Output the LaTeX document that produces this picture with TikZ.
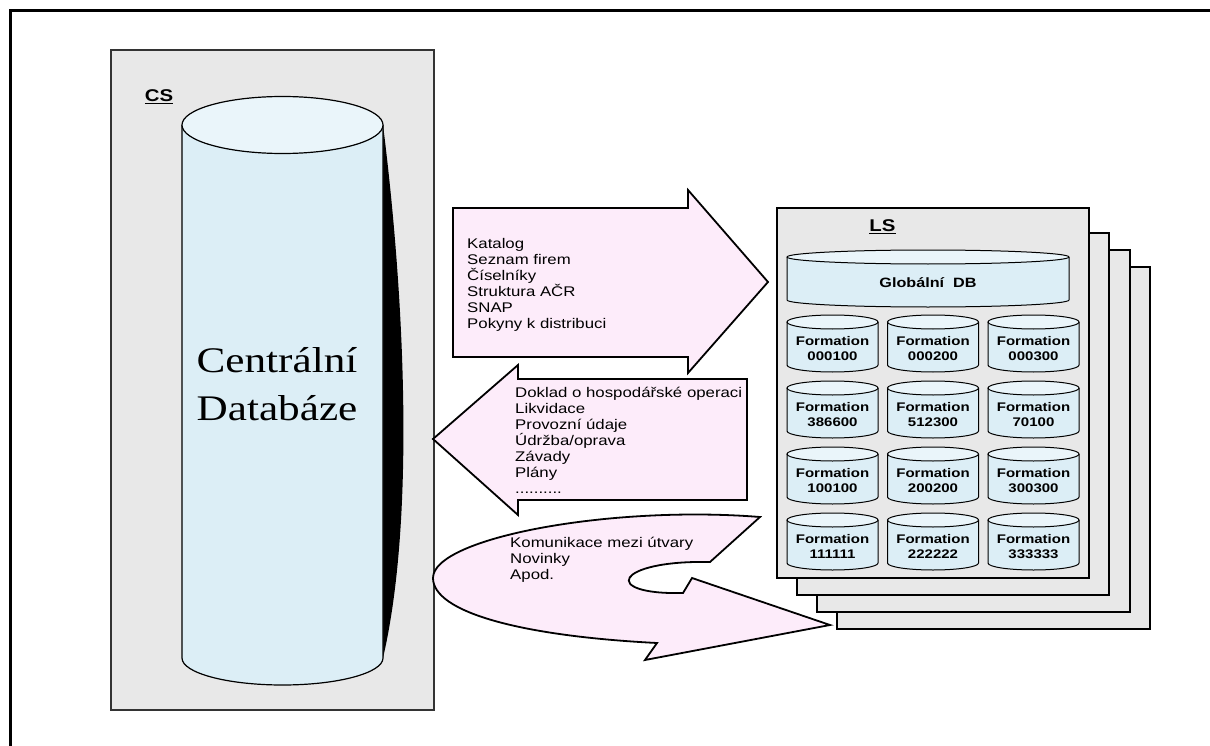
\documentclass[tikz,border=0pt]{standalone}
\usepackage{fontspec}
\setmainfont{Liberation Sans}[FakeStretch=1.2]
\newfontfamily\dbserif{Liberation Serif}[FakeStretch=1.2]

\definecolor{panelgray}{RGB}{232,232,232}
\definecolor{dbbody}{RGB}{220,238,246}
\definecolor{dbtop}{RGB}{234,245,250}
\definecolor{flowpink}{RGB}{253,236,250}

\tikzset{
  panel/.style={fill=panelgray,draw=black!80,line width=1.6pt},
  flowarrow/.style={fill=flowpink,draw=black,line width=1.8pt,line join=miter},
  flowtext/.style={anchor=north west,align=left,inner sep=0pt,font=\fontsize{14}{16}\selectfont},
  dbline/.style={draw=black,line width=1pt},
  dbtext/.style={inner sep=0pt,align=center,font=\fontsize{12.5}{15}\selectfont\bfseries},
  tag/.style={font=\fontsize{17}{20}\selectfont\bfseries,inner sep=0pt}
}

\begin{document}
\begin{tikzpicture}[x=1pt,y=-1pt]
  \useasboundingbox (0,0) rectangle (1210,746);
  \draw[line width=3pt] (10,746) -- (10,11) -- (1210,11);

  \begin{scope}
    \draw[panel] (111,50) rectangle (434,710);
    \node[tag] (cs) at (159,97) {\underline{CS}};
    \fill (383,125) .. controls (405,300) and (415,520) .. (383,658) -- cycle;
    \fill[dbbody] (182,125) -- (182,658) arc[start angle=180,end angle=0,x radius=100.5,y radius=27] -- (383,125) -- cycle;
    \draw[line width=1.2pt] (182,125) -- (182,658) arc[start angle=180,end angle=0,x radius=100.5,y radius=27] -- (383,125);
    \draw[line width=1.2pt,fill=dbtop] (282.5,125) ellipse[x radius=100.5,y radius=28.5];
    \node[font=\dbserif\fontsize{36}{48}\selectfont,align=center] (cdb) at (277,384) {Centrální\\Databáze};
  \end{scope}

  \draw[flowarrow] (453,208) -- (688,208) -- (688,190) -- (768,282) -- (688,373) -- (688,357) -- (453,357) -- cycle;
  \node[flowtext] (down) at (467,238) {Katalog\\Seznam firem\\Číselníky\\Struktura AČR\\SNAP\\Pokyny k distribuci};

  \draw[flowarrow] (433,439) -- (518,365) -- (518,379) -- (747,379) -- (747,500) -- (518,500) -- (518,515) -- cycle;
  \node[flowtext] (up) at (515,387) {Doklad o hospodářské operaci\\Likvidace\\Provozní údaje\\Údržba/oprava\\Závady\\Plány\\..........};

  \draw[flowarrow] (760,517) -- (710,562) .. controls (615,560) and (600,595) .. (683,593) -- (692,578) -- (830,625)
    -- (645,660) -- (657,643) .. controls (520,636) and (433,612) .. (433,578)
    .. controls (433,538) and (610,505) .. (760,517) -- cycle;
  \node[flowtext] (misc) at (510,537) {Komunikace mezi útvary\\Novinky\\Apod.};

  \begin{scope}
    \draw[panel,draw=black] (837,267) rectangle (1150,629);
    \draw[panel,draw=black] (817,250) rectangle (1130,612);
    \draw[panel,draw=black] (797,233) rectangle (1109,595);
    \draw[panel,draw=black] (777,208) rectangle (1089,578);
    \node[tag] (ls) at (882.5,227) {\underline{LS}};

    \fill[dbbody] (787,257) -- (787,300) arc[start angle=180,end angle=0,x radius=141,y radius=7] -- (1069,257) -- cycle;
    \draw[dbline] (787,257) -- (787,300) arc[start angle=180,end angle=0,x radius=141,y radius=7] -- (1069,257);
    \draw[dbline,fill=dbtop] (928,257) ellipse[x radius=141,y radius=7];
    \node[dbtext,font=\fontsize{13.5}{15}\selectfont\bfseries] (gdb) at (928,283) {Globální~~DB};

    \foreach \cx/\cy/\code in {832.5/343.5/000100, 933/343.5/000200, 1033.5/343.5/000300,
                              832.5/409.5/386600, 933/409.5/512300, 1033.5/409.5/70100,
                              832.5/475.5/100100, 933/475.5/200200, 1033.5/475.5/300300,
                              832.5/541.5/111111, 933/541.5/222222, 1033.5/541.5/333333}{
      \fill[dbbody] (\cx-45.5,\cy-21.5) -- (\cx-45.5,\cy+21.5) arc[start angle=180,end angle=0,x radius=45.5,y radius=7] -- (\cx+45.5,\cy-21.5) -- cycle;
      \draw[dbline] (\cx-45.5,\cy-21.5) -- (\cx-45.5,\cy+21.5) arc[start angle=180,end angle=0,x radius=45.5,y radius=7] -- (\cx+45.5,\cy-21.5);
      \draw[dbline,fill=dbtop] (\cx,\cy-21.5) ellipse[x radius=45.5,y radius=7];
      \node[dbtext] (f\code) at (\cx,\cy+5) {Formation\\\code};
    }
  \end{scope}
\end{tikzpicture}
\end{document}
